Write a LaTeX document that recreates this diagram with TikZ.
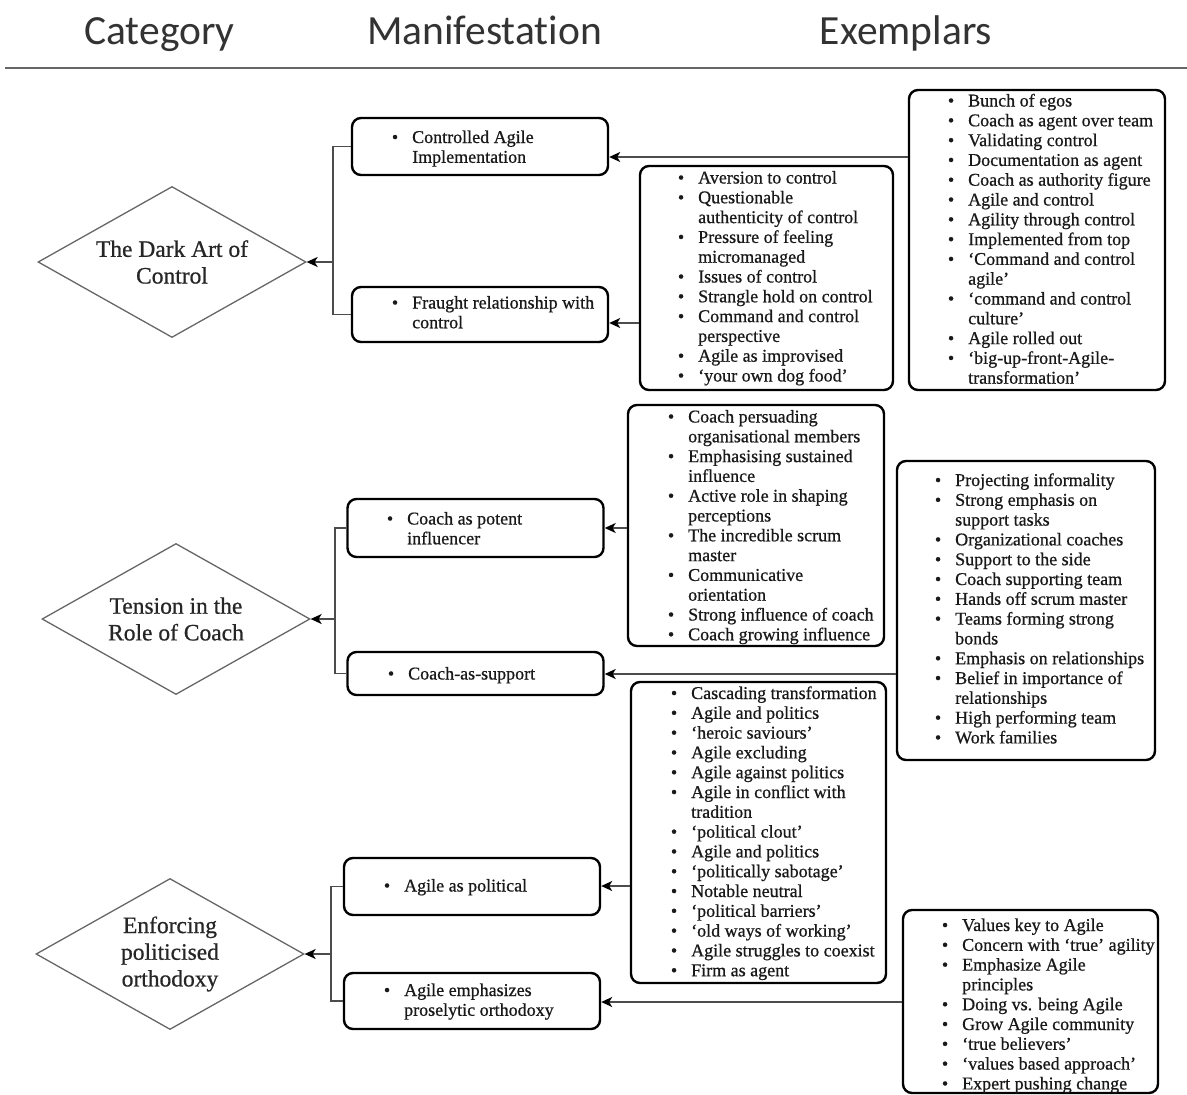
\documentclass[tikz,border=0pt]{standalone}
\usepackage{fontspec}
\setmainfont{Liberation Serif}[FakeBold=0.7]
\newfontfamily\headfont{Carlito}[Ligatures=NoCommon]
\usetikzlibrary{arrows.meta,shapes.geometric}
% bullet hung to the left of an item's first line
\newcommand\bulitem{\llap{\textbullet\hspace{14pt}}}
\begin{document}
\begin{tikzpicture}[x=1pt,y=-1pt,
  box/.style={draw=black, line width=2.4pt, rounded corners=9pt, fill=white, inner sep=0pt},
  diam/.style={diamond, aspect=1.77, draw=black!60, line width=1.3pt, inner sep=0pt,
    align=center, text=black!85, font=\fontsize{23.5}{26.7}\selectfont,
    minimum width=268pt, minimum height=151pt},
  conn/.style={draw=black!70, line width=1.5pt},
  arr/.style={conn, -{Stealth[length=11pt, width=10pt, inset=3pt, color=black]}},
  lst/.style={anchor=base west, inner sep=0pt, text=black!90, font=\fontsize{18}{19.8}\selectfont},
  hdr/.style={anchor=base, inner sep=0pt, text=black!80, font=\headfont\fontsize{41.5}{45}\selectfont},
  rulel/.style={draw=black!60, line width=1.6pt}
]
\useasboundingbox (0,0) rectangle (1187,1095);

% column headings
\node[hdr] (hcat) at (159.5,44) {Category};
\node[hdr] (hman) at (484.5,44) {Manifestation};
\node[hdr] (hexe) at (906,44) {Exemplars};
\coordinate (rl) at (5,68);
\coordinate (rr) at (1187,68);
\draw[rulel] (rl) -- (rr);

% ---------------- The Dark Art of Control ----------------
\node[diam] (D1) at (172,262) {The Dark Art of\\Control};
\node[box, minimum width=256pt, minimum height=57pt] (A1) at (480,146.5) {};
\node[lst] (A1t) at (412,143) {\begin{tabular}[t]{@{}l@{}}\bulitem Controlled Agile\\Implementation\end{tabular}};
\node[box, minimum width=256pt, minimum height=55pt] (A2) at (480,314.5) {};
\node[lst] (A2t) at (412,308.5) {\begin{tabular}[t]{@{}l@{}}\bulitem Fraught relationship with\\control\end{tabular}};

\node[box, minimum width=253pt, minimum height=224pt] (E1) at (766.5,278) {};
\node[lst] (E1t) at (698,183.5) {\begin{tabular}[t]{@{}l@{}}
\bulitem Aversion to control\\
\bulitem Questionable\\
authenticity of control\\
\bulitem Pressure of feeling\\
micromanaged\\
\bulitem Issues of control\\
\bulitem Strangle hold on control\\
\bulitem Command and control\\
perspective\\
\bulitem Agile as improvised\\
\bulitem `your own dog food'
\end{tabular}};

\node[box, minimum width=256pt, minimum height=300pt] (E2) at (1037,240) {};
\node[lst] (E2t) at (968,106.5) {\begin{tabular}[t]{@{}l@{}}
\bulitem Bunch of egos\\
\bulitem Coach as agent over team\\
\bulitem Validating control\\
\bulitem Documentation as agent\\
\bulitem Coach as authority figure\\
\bulitem Agile and control\\
\bulitem Agility through control\\
\bulitem Implemented from top\\
\bulitem `Command and control\\
agile'\\
\bulitem `command and control\\
culture'\\
\bulitem Agile rolled out\\
\bulitem `big-up-front-Agile-\\
transformation'
\end{tabular}};

\coordinate (S1) at (333,262);
\draw[conn] (A1.west) -| (S1) |- (A2.west);
\draw[arr] (S1) -- (D1.east);
\draw[arr] (E2.west |- 0,157) -- (A1.east |- 0,157);
\draw[arr] (E1.west |- 0,323) -- (A2.east |- 0,323);

% ---------------- Tension in the Role of Coach ----------------
\node[diam] (D2) at (176,619) {Tension in the\\Role of Coach};
\node[box, minimum width=256pt, minimum height=58pt] (B1) at (475.5,528) {};
\node[lst] (B1t) at (407,524.5) {\begin{tabular}[t]{@{}l@{}}\bulitem Coach as potent\\influencer\end{tabular}};
\node[box, minimum width=256pt, minimum height=43pt] (B2) at (475.5,673.5) {};
\node[lst] (B2t) at (408,679.5) {\begin{tabular}[t]{@{}l@{}}\bulitem Coach-as-support\end{tabular}};

\node[box, minimum width=256pt, minimum height=241pt] (E3) at (756,525.5) {};
\node[lst] (E3t) at (688,422.5) {\begin{tabular}[t]{@{}l@{}}
\bulitem Coach persuading\\
organisational members\\
\bulitem Emphasising sustained\\
influence\\
\bulitem Active role in shaping\\
perceptions\\
\bulitem The incredible scrum\\
master\\
\bulitem Communicative\\
orientation\\
\bulitem Strong influence of coach\\
\bulitem Coach growing influence
\end{tabular}};

\node[box, minimum width=258pt, minimum height=299pt] (E4) at (1026,610.5) {};
\node[lst] (E4t) at (955,486) {\begin{tabular}[t]{@{}l@{}}
\bulitem Projecting informality\\
\bulitem Strong emphasis on\\
support tasks\\
\bulitem Organizational coaches\\
\bulitem Support to the side\\
\bulitem Coach supporting team\\
\bulitem Hands off scrum master\\
\bulitem Teams forming strong\\
bonds\\
\bulitem Emphasis on relationships\\
\bulitem Belief in importance of\\
relationships\\
\bulitem High performing team\\
\bulitem Work families
\end{tabular}};

\coordinate (S2) at (335,619);
\draw[conn] (B1.west) -| (S2) |- (B2.west);
\draw[arr] (S2) -- (D2.east);
\draw[arr] (E3.west |- 0,528) -- (B1.east |- 0,528);
\draw[arr] (E4.west |- 0,674) -- (B2.east |- 0,674);

% ---------------- Enforcing politicised orthodoxy ----------------
\node[diam] (D3) at (170,954) {Enforcing\\politicised\\orthodoxy};
\node[box, minimum width=256pt, minimum height=57pt] (C1) at (472,886.5) {};
\node[lst] (C1t) at (404,891.5) {\begin{tabular}[t]{@{}l@{}}\bulitem Agile as political\end{tabular}};
\node[box, minimum width=256pt, minimum height=56pt] (C2) at (472,1001) {};
\node[lst] (C2t) at (404,996) {\begin{tabular}[t]{@{}l@{}}\bulitem Agile emphasizes\\proselytic orthodoxy\end{tabular}};

\node[box, minimum width=255pt, minimum height=301pt] (E5) at (758.5,832.5) {};
\node[lst] (E5t) at (691,699) {\begin{tabular}[t]{@{}l@{}}
\bulitem Cascading transformation\\
\bulitem Agile and politics\\
\bulitem `heroic saviours'\\
\bulitem Agile excluding\\
\bulitem Agile against politics\\
\bulitem Agile in conflict with\\
tradition\\
\bulitem `political clout'\\
\bulitem Agile and politics\\
\bulitem `politically sabotage'\\
\bulitem Notable neutral\\
\bulitem `political barriers'\\
\bulitem `old ways of working'\\
\bulitem Agile struggles to coexist\\
\bulitem Firm as agent
\end{tabular}};

\node[box, minimum width=255pt, minimum height=183pt] (E6) at (1030.5,1001.5) {};
\node[lst] (E6t) at (962,931) {\begin{tabular}[t]{@{}l@{}}
\bulitem Values key to Agile\\
\bulitem Concern with `true' agility\\
\bulitem Emphasize Agile\\
principles\\
\bulitem Doing vs. being Agile\\
\bulitem Grow Agile community\\
\bulitem `true believers'\\
\bulitem `values based approach'\\
\bulitem Expert pushing change
\end{tabular}};

\coordinate (S3) at (331,954);
\draw[conn] (C1.west) -| (S3) |- (C2.west);
\draw[arr] (S3) -- (D3.east);
\draw[arr] (E5.west |- 0,886) -- (C1.east |- 0,886);
\draw[arr] (E6.west |- 0,1002) -- (C2.east |- 0,1002);
\end{tikzpicture}
\end{document}
